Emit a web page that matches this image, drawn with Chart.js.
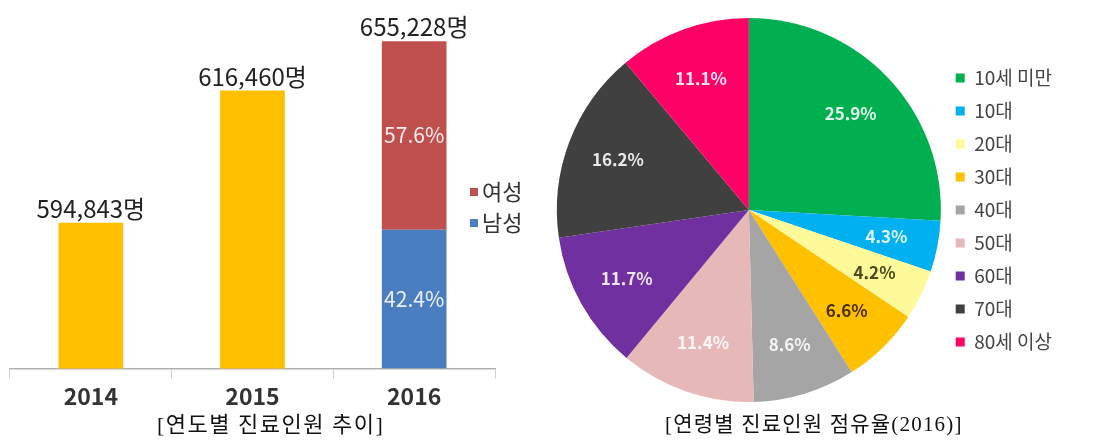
<!DOCTYPE html>
<html lang="ko">
<head>
<meta charset="utf-8">
<title>진료인원 추이 / 연령별 점유율</title>
<script src="https://cdn.jsdelivr.net/npm/chart.js@4.4.1/dist/chart.umd.min.js"></script>
<style>
  html, body { margin: 0; padding: 0; background: #fff; }
  #page { position: relative; width: 1093px; height: 446px; overflow: hidden; }
  .box { position: absolute; }
  .caption {
    position: absolute;
    font-family: "Liberation Serif", "Noto Sans CJK KR", serif;
    color: #111;
    white-space: nowrap;
  }
</style>
</head>
<body>
<div id="page">
  <div class="box" style="left:0;top:0;width:540px;height:414px"><canvas id="trend"></canvas></div>
  <div class="box" style="left:540px;top:0;width:553px;height:420px"><canvas id="ages"></canvas></div>
  <div class="caption" style="left:157px;top:406px;font-size:22px;letter-spacing:1.5px">[연도별 진료인원 추이]</div>
  <div class="caption" style="left:665px;top:407px;font-size:21px;letter-spacing:1.2px">[연령별 진료인원 점유율(2016)]</div>
</div>

<script>
// ── Data ──────────────────────────────────────────────────────────
const years = ['2014', '2015', '2016'];
const totalPatients = [594843, 616460, 655228];
const genderLabels = ['남성', '여성'];
const genderShare2016 = [42.4, 57.6];

const ageGroups = ['10세 미만', '10대', '20대', '30대', '40대', '50대', '60대', '70대', '80세 이상'];
const ageShare2016 = [25.9, 4.3, 4.2, 6.6, 8.6, 11.4, 11.7, 16.2, 11.1];

// ── Styles ────────────────────────────────────────────────────────
const FONT = '"Noto Sans CJK KR", "Noto Sans", sans-serif';
const YELLOW = '#FFC000';
const genderColors = ['#4A7EC0', '#C0504D'];
const ageColors = ['#00B050', '#00B0F0', '#FFFA99', '#FFC000', '#A5A5A5', '#E6B9B8', '#7030A0', '#404040', '#FF0066'];
const ageLabelColors = ['rgba(255,255,255,0.88)', 'rgba(255,255,255,0.88)', '#4a4a1c', '#4d3000',
  'rgba(255,255,255,0.88)', 'rgba(255,255,255,0.88)', 'rgba(255,255,255,0.88)', 'rgba(255,255,255,0.88)', 'rgba(255,255,255,0.88)'];

Chart.defaults.font.family = FONT;
Chart.defaults.animation = false;

// ── Left: yearly totals with 2016 gender split ───────────────────
const last = years.length - 1;

const trendLabels = {
  id: 'trendLabels',
  afterDatasetsDraw(chart) {
    const ctx = chart.ctx;
    const metas = chart.data.datasets.map((_, i) => chart.getDatasetMeta(i));
    ctx.save();

    // totals above each bar
    ctx.font = '24px ' + FONT;
    ctx.fillStyle = '#222';
    ctx.textAlign = 'center';
    ctx.textBaseline = 'alphabetic';
    years.forEach((_, i) => {
      const bar = i === last ? metas[2].data[i] : metas[0].data[i];
      ctx.fillText(totalPatients[i].toLocaleString('en-US') + '명', bar.x, bar.y - 5);
    });

    // share labels inside the stacked 2016 bar
    ctx.font = '21px ' + FONT;
    ctx.fillStyle = 'rgba(255,255,255,0.9)';
    ctx.textBaseline = 'middle';
    [1, 2].forEach(d => {
      const bar = metas[d].data[last];
      ctx.save();
      ctx.beginPath();
      ctx.rect(bar.x - bar.width / 2, bar.y, bar.width, bar.base - bar.y);
      ctx.clip();
      ctx.fillText(chart.data.datasets[d].data[last] + '%', bar.x, (bar.y + bar.base) / 2);
      ctx.restore();
    });

    // small legend: 여성 over 남성
    ctx.font = '22px ' + FONT;
    ctx.textAlign = 'left';
    [2, 1].forEach((d, k) => {
      const y = 192 + k * 31;
      ctx.fillStyle = chart.data.datasets[d].backgroundColor;
      ctx.fillRect(470, y - 4, 8, 8);
      ctx.fillStyle = '#333';
      ctx.fillText(chart.data.datasets[d].label, 482, y);
    });
    ctx.restore();
  }
};

new Chart(document.getElementById('trend'), {
  type: 'bar',
  data: {
    labels: years,
    datasets: [
      {
        label: '진료인원',
        data: totalPatients.map((v, i) => (i < last ? v : null)),
        backgroundColor: YELLOW,
        yAxisID: 'y',
        stack: 'year'
      },
      {
        label: genderLabels[0],
        data: years.map((_, i) => (i === last ? genderShare2016[0] : null)),
        backgroundColor: genderColors[0],
        yAxisID: 'y2',
        stack: 'year'
      },
      {
        label: genderLabels[1],
        data: years.map((_, i) => (i === last ? genderShare2016[1] : null)),
        backgroundColor: genderColors[1],
        yAxisID: 'y2',
        stack: 'year'
      }
    ]
  },
  options: {
    responsive: true,
    maintainAspectRatio: false,
    barPercentage: 0.4,
    categoryPercentage: 1,
    layout: { padding: { left: 10, right: 45, top: 20, bottom: 0 } },
    plugins: { legend: { display: false }, tooltip: { enabled: false } },
    scales: {
      x: {
        stacked: true,
        grid: { display: true, drawOnChartArea: false, offset: true, tickLength: 10, color: '#d0d0d0' },
        border: { display: true, color: '#b0b0b0', width: 1.5 },
        ticks: { color: '#333', padding: 4, font: { size: 23, weight: 'bold' } }
      },
      y: { display: false, min: 571000, max: 628000 },
      y2: { display: false, stacked: true, min: 0, max: 106.5 }
    }
  },
  plugins: [trendLabels]
});

// ── Right: age group share (2016) ─────────────────────────────────
const pieLabels = {
  id: 'pieLabels',
  afterDatasetsDraw(chart) {
    const ctx = chart.ctx;
    const meta = chart.getDatasetMeta(0);
    ctx.save();
    ctx.font = 'bold 17px ' + FONT;
    ctx.textAlign = 'center';
    ctx.textBaseline = 'middle';
    meta.data.forEach((arc, i) => {
      const mid = (arc.startAngle + arc.endAngle) / 2;
      const r = arc.outerRadius * 0.73;
      ctx.fillStyle = ageLabelColors[i];
      ctx.fillText(ageShare2016[i] + '%', arc.x + Math.cos(mid) * r, arc.y + Math.sin(mid) * r);
    });
    ctx.restore();
  }
};

new Chart(document.getElementById('ages'), {
  type: 'pie',
  data: {
    labels: ageGroups,
    datasets: [{
      data: ageShare2016,
      backgroundColor: ageColors,
      borderWidth: 0
    }]
  },
  options: {
    responsive: true,
    maintainAspectRatio: false,
    layout: { padding: { left: 16, right: 31, top: 18, bottom: 18 } },
    plugins: {
      tooltip: { enabled: false },
      legend: {
        position: 'right',
        labels: {
          boxWidth: 9,
          boxHeight: 9,
          padding: 14,
          color: '#444',
          font: { size: 19 }
        }
      }
    }
  },
  plugins: [pieLabels]
});
</script>
</body>
</html>
